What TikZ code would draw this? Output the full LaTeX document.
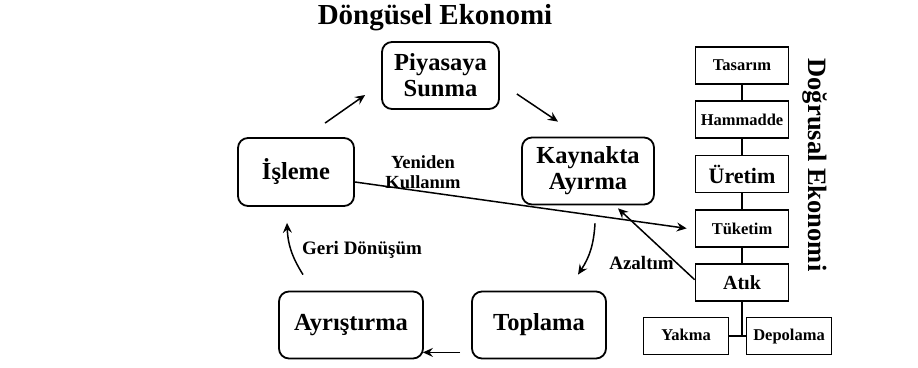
\documentclass[tikz,border=0pt]{standalone}
\usepackage{fontspec}
\setmainfont{Liberation Serif}
\usetikzlibrary{arrows.meta,positioning}

\begin{document}
\begin{tikzpicture}[x=1pt, y=1pt,
    stage/.style={draw, rounded corners=10pt, line width=1.8pt, minimum height=67pt, align=center, inner sep=2pt, font=\bfseries\fontsize{24.5}{26}\selectfont},
    flow/.style={draw, line width=1.7pt, minimum width=93pt, minimum height=37pt, inner sep=1pt, font=\bfseries\fontsize{16.5}{18}\selectfont},
    leaf/.style={flow, minimum width=85pt, text height=11.5pt, text depth=3.5pt},
    tag/.style={align=center, font=\bfseries\fontsize{19}{21}\selectfont},
    arrow/.style={-{Stealth[length=10pt,width=9pt,inset=3.5pt]}, line width=1.5pt},
    link/.style={line width=1.7pt}
]
    \useasboundingbox (0,0) rectangle (918,367);

    \node[font=\bfseries\fontsize{29}{31}\selectfont] (circular) at (435,349) {Döngüsel Ekonomi};
    \node[stage, minimum width=117pt] (piyasa) at (440.5,291.5) {Piyasaya\\Sunma};
    \node[stage, minimum width=116pt, minimum height=68pt] (isleme) at (296,195) {İşleme};
    \node[stage, minimum width=132pt] (kaynak) at (588,196) {Kaynakta\\Ayırma};
    \node[stage, minimum width=144pt] (ayristirma) at (351,42) {Ayrıştırma};
    \node[stage, minimum width=134pt] (toplama) at (539,42) {Toplama};

    \node[flow] (tasarim) at (742,301.5) {Tasarım};
    \node[flow, below=15.6pt of tasarim] (hammadde) {Hammadde};
    \node[flow, below=15.6pt of hammadde, font=\bfseries\fontsize{22}{24}\selectfont] (uretim) {Üretim};
    \node[flow, below=15.6pt of uretim] (tuketim) {Tüketim};
    \node[flow, below=15.6pt of tuketim, font=\bfseries\fontsize{20}{22}\selectfont] (atik) {Atık};
    \node[leaf] (yakma) at (686,31) {Yakma};
    \node[leaf] (depolama) at (789,31) {Depolama};
    \node[rotate=-90, font=\bfseries\fontsize{26.5}{28}\selectfont] (linear) at (815,202) {Doğrusal Ekonomi};

    \node[tag, font=\bfseries\fontsize{18.5}{20}\selectfont] (reuse) at (423,195) {Yeniden\\Kullanım};
    \node[tag] (recycle) at (362,117) {Geri Dönüşüm};
    \node[tag] (reduce) at (641.5,104) {Azaltım};

    \draw[link] (tasarim) -- (hammadde);
    \draw[link] (hammadde) -- (uretim);
    \draw[link] (uretim) -- (tuketim);
    \draw[link] (tuketim) -- (atik);
    \draw[link] (atik.south) -- (atik.south |- yakma.east);
    \draw[link] (yakma.east) -- (depolama.west);

    \draw[arrow] ([shift={(29,14)}]isleme.north) -- ([shift={(-16,-19.5)}]piyasa.west);
    \draw[arrow] ([shift={(17,-18.5)}]piyasa.east) -- ([shift={(-30,15)}]kaynak.north);
    \draw[arrow] ([shift={(7,-18)}]kaynak.south) to[bend left=15] ([shift={(39,16)}]toplama.north);
    \draw[arrow] ([shift={(-11,7)}]toplama.south west) -- ([shift={(-1,7)}]ayristirma.south east);
    \draw[arrow] ([shift={(-48,16)}]ayristirma.north) to[bend left=15] ([shift={(-9,-16)}]isleme.south);
    \draw[arrow] ([yshift=-10pt]isleme.east) -- ([xshift=-8pt]tuketim.west);
    \draw[arrow] ([yshift=3pt]atik.west) -- ([shift={(30,-3)}]kaynak.south);
\end{tikzpicture}
\end{document}
